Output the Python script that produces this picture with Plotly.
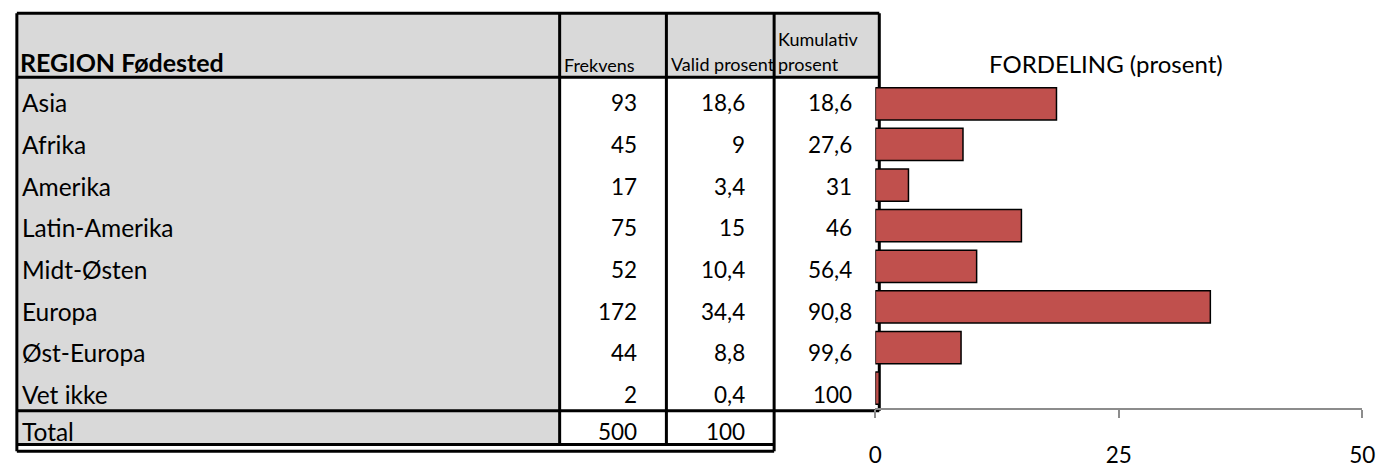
import plotly.graph_objects as go

# ---------------- data ----------------
regions = ["Asia", "Afrika", "Amerika", "Latin-Amerika", "Midt-Østen",
           "Europa", "Øst-Europa", "Vet ikke"]
frekvens = [93, 45, 17, 75, 52, 172, 44, 2]
valid_prosent = [18.6, 9, 3.4, 15, 10.4, 34.4, 8.8, 0.4]
kumulativ_prosent = [18.6, 27.6, 31, 46, 56.4, 90.8, 99.6, 100]
total_label = "Total"
total_frekvens = 500
total_valid = 100
header_region = "REGION Fødested"
header_frekvens = "Frekvens"
header_valid = "Valid prosent"
header_kumulativ = ["Kumulativ", "prosent"]
chart_title = "FORDELING (prosent)"
x_ticks = [0, 25, 50]

# ---------------- layout constants (pixels) ----------------
W, H = 1393, 468
FONT = "Lato"
FS_LABEL = 24.5
FS_HEAD = 25
FS_NUM = 22.5
FS_SMALL = 18
FS_TITLE = 24
GRAY = "#D9D9D9"
BAR_COLOR = "#C0504D"

TL = 10                                  # table left
COLS = [TL, 560.7, 669, 778.3, 885]      # column borders
TOP = 13.5
HEAD_B = 79
RH = 42.7
DATA_B = HEAD_B + RH * len(regions)
TOTAL_B = 455.3
DOUBLE_B = 462
NUM_RIGHT = [641, 751, 859]
LABEL_X = 13

PLOT_L, PLOT_R = 881, 1375
PLOT_T, PLOT_B = 85.5, 418.3


def px(x):
    return x / W


def py(y):
    return 1 - y / H


def fmt(v):
    return f"{v:g}".replace(".", ",")


fig = go.Figure()

fig.add_trace(go.Bar(
    x=valid_prosent, y=regions, orientation="h",
    marker=dict(color=BAR_COLOR, line=dict(color="black", width=1.5)),
    hoverinfo="skip", showlegend=False,
))

shapes = []
# fills
shapes.append(dict(type="rect", xref="paper", yref="paper", layer="below",
                   x0=px(TL), x1=px(COLS[-1]), y0=py(TOP), y1=py(HEAD_B),
                   fillcolor=GRAY, line=dict(width=0)))
shapes.append(dict(type="rect", xref="paper", yref="paper", layer="below",
                   x0=px(TL), x1=px(COLS[1]), y0=py(HEAD_B), y1=py(TOTAL_B),
                   fillcolor=GRAY, line=dict(width=0)))

lines = [
    (TL, TOP, COLS[4], TOP),
    (TL, HEAD_B, COLS[4], HEAD_B),
    (TL, DATA_B, COLS[4], DATA_B),
    (TL, TOTAL_B, COLS[3], TOTAL_B),
    (TL, DOUBLE_B, COLS[3], DOUBLE_B),
    (TL, TOP, TL, DOUBLE_B),
    (COLS[1], TOP, COLS[1], TOTAL_B),
    (COLS[2], TOP, COLS[2], TOTAL_B),
    (COLS[3], TOP, COLS[3], DOUBLE_B),
    (COLS[4], TOP, COLS[4], DATA_B),
]
for x0, y0, x1, y1 in lines:
    shapes.append(dict(type="line", xref="paper", yref="paper", layer="below",
                       x0=px(x0), x1=px(x1), y0=py(y0), y1=py(y1),
                       line=dict(color="black", width=3)))

ann = []


def text(x, y, s, size=FS_LABEL, xanchor="left"):
    ann.append(dict(xref="paper", yref="paper", x=px(x), y=py(y), text=s,
                    showarrow=False, xanchor=xanchor, yanchor="middle",
                    font=dict(family=FONT, size=size, color="black")))


# header
text(LABEL_X - 2, HEAD_B - 15, f"<b>{header_region}</b>", FS_HEAD)
text(COLS[1] + 2, HEAD_B - 12.5, header_frekvens, FS_SMALL)
text(COLS[2] + 3, HEAD_B - 13, header_valid, FS_SMALL)
text(COLS[3] + 1.5, HEAD_B - 39, header_kumulativ[0], FS_SMALL)
text(COLS[3] + 1.5, HEAD_B - 13, header_kumulativ[1], FS_SMALL)

# body
for i, r in enumerate(regions):
    yb = HEAD_B + RH * (i + 1) - 16.5
    text(LABEL_X, yb, r)
    text(NUM_RIGHT[0], yb, fmt(frekvens[i]), FS_NUM, xanchor="right")
    text(NUM_RIGHT[1], yb, fmt(valid_prosent[i]), FS_NUM, xanchor="right")
    text(NUM_RIGHT[2], yb, fmt(kumulativ_prosent[i]), FS_NUM, xanchor="right")

yt = TOTAL_B - 13.6
text(LABEL_X, yt, total_label)
text(NUM_RIGHT[0], yt, fmt(total_frekvens), FS_NUM, xanchor="right")
text(NUM_RIGHT[1], yt, fmt(total_valid), FS_NUM, xanchor="right")

# chart title
text(1115, 65, chart_title, FS_TITLE, xanchor="center")

fig.update_layout(
    width=W, height=H,
    margin=dict(l=0, r=0, t=0, b=0),
    paper_bgcolor="white", plot_bgcolor="rgba(0,0,0,0)",
    bargap=0.207,
    shapes=shapes, annotations=ann,
    showlegend=False,
    font=dict(family=FONT, color="black"),
    xaxis=dict(domain=[px(PLOT_L), px(PLOT_R)], range=[0, 50],
               tickvals=x_ticks, ticktext=[str(t) for t in x_ticks],
               showgrid=False, zeroline=False,
               showline=True, linecolor="#8C8C8C", linewidth=1.5,
               ticks="outside", ticklen=8, tickwidth=1.5, tickcolor="#8C8C8C",
               tickfont=dict(family=FONT, size=FS_NUM, color="black"),
               ticklabelstandoff=18, fixedrange=True),
    yaxis=dict(domain=[py(PLOT_B), py(PLOT_T)],
               categoryorder="array", categoryarray=regions,
               autorange="reversed",
               showgrid=False, zeroline=False, showline=False,
               showticklabels=False, ticks="", fixedrange=True),
)

fig.write_html(
    "out.html",
    config={"displayModeBar": False},
    post_script="document.body.style.margin='0';document.body.style.overflow='hidden';",
)
